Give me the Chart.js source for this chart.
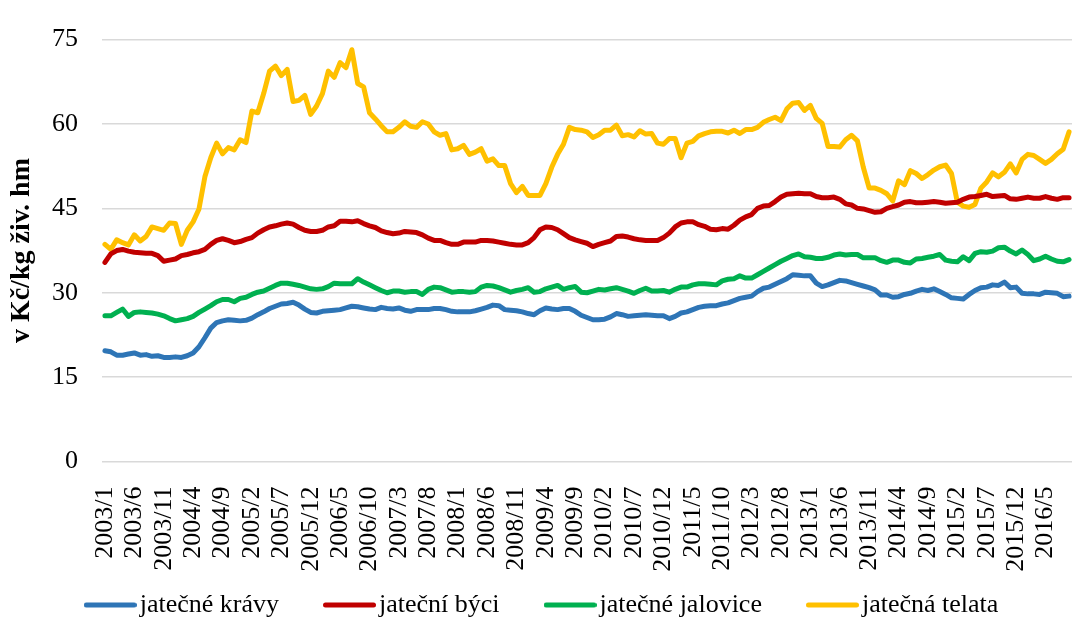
<!DOCTYPE html>
<html>
<head>
<meta charset="utf-8">
<script src="https://cdn.jsdelivr.net/npm/chart.js@4/dist/chart.umd.min.js"></script>
<style>
  html, body { margin: 0; padding: 0; background: #fff; }
  #wrap { width: 1072px; height: 618px; }
</style>
</head>
<body>
<div id="wrap"><canvas id="chart" width="1072" height="618"></canvas></div>
<script>
// monthly prices, v Kč/kg živé hmotnosti, 2003/1 .. 2016/9
const startYear = 2003;
const monthCount = 165;
const months = [];
for (let i = 0; i < monthCount; i++) {
  months.push((startYear + Math.floor(i / 12)) + "/" + (i % 12 + 1));
}

const seriesNames = ["jatečné krávy", "jateční býci", "jatečné jalovice", "jatečná telata"];
const seriesColors = ["#2E75B6", "#C00000", "#00B050", "#FFC000"];
const yTicks = [0, 15, 30, 45, 60, 75];

const kravy = [
  19.7, 19.5, 18.9, 18.9, 19.1, 19.3, 18.9, 19.0, 18.7, 18.8, 18.5, 18.5, 18.6, 18.5, 18.8, 19.3, 20.4, 22.0, 23.7, 24.7,
  25.0, 25.2, 25.1, 25.0, 25.1, 25.5, 26.1, 26.6, 27.2, 27.6, 28.0, 28.1, 28.3, 27.8, 27.1, 26.5, 26.4, 26.7, 26.8, 26.9,
  27.0, 27.3, 27.6, 27.5, 27.3, 27.1, 27.0, 27.4, 27.2, 27.1, 27.3, 26.9, 26.7, 27.0, 27.0, 27.0, 27.2, 27.2, 27.0, 26.7,
  26.6, 26.6, 26.6, 26.8, 27.1, 27.4, 27.8, 27.7, 27.0, 26.9, 26.8, 26.6, 26.3, 26.1, 26.8, 27.3, 27.1, 27.0, 27.2, 27.2,
  26.7, 26.0, 25.6, 25.2, 25.2, 25.3, 25.7, 26.3, 26.1, 25.8, 25.9, 26.0, 26.1, 26.0, 25.9, 25.9, 25.4, 25.8, 26.4, 26.6,
  27.0, 27.4, 27.6, 27.7, 27.7, 28.0, 28.2, 28.6, 29.0, 29.2, 29.4, 30.2, 30.8, 31.0, 31.5, 32.0, 32.5, 33.2, 33.1, 33.0,
  33.0, 31.7, 31.1, 31.4, 31.8, 32.2, 32.1, 31.8, 31.5, 31.2, 30.9, 30.5, 29.6, 29.6, 29.2, 29.3, 29.7, 29.9, 30.3, 30.6,
  30.4, 30.7, 30.2, 29.7, 29.1, 29.0, 28.9, 29.7, 30.4, 30.9, 31.0, 31.4, 31.3, 31.9, 30.9, 31.0, 29.9, 29.8, 29.8, 29.7,
  30.1, 30.0, 29.9, 29.3, 29.4
];

const byci = [
  35.4, 36.9, 37.5, 37.7, 37.4, 37.2, 37.1, 37.0, 37.0, 36.6, 35.6, 35.8, 36.0, 36.6, 36.8, 37.1, 37.3, 37.7, 38.6, 39.3,
  39.6, 39.3, 38.9, 39.1, 39.5, 39.8, 40.6, 41.2, 41.7, 41.9, 42.2, 42.4, 42.2, 41.6, 41.1, 40.9, 40.9, 41.1, 41.7, 41.9,
  42.7, 42.7, 42.6, 42.8, 42.3, 41.9, 41.6, 41.0, 40.7, 40.5, 40.6, 40.9, 40.8, 40.7, 40.3, 39.7, 39.3, 39.3, 38.9, 38.6,
  38.6, 39.0, 39.0, 39.0, 39.3, 39.3, 39.2, 39.0, 38.8, 38.6, 38.5, 38.5, 38.9, 39.8, 41.2, 41.7, 41.6, 41.2, 40.5, 39.8,
  39.4, 39.1, 38.8, 38.2, 38.6, 38.9, 39.2, 40.0, 40.1, 39.9, 39.6, 39.4, 39.3, 39.3, 39.3, 39.8, 40.6, 41.7, 42.4, 42.6,
  42.6, 42.1, 41.8, 41.3, 41.2, 41.4, 41.3, 42.0, 42.9, 43.5, 43.9, 45.0, 45.4, 45.5, 46.2, 47.0, 47.5, 47.6, 47.7, 47.6,
  47.6, 47.1, 46.9, 46.9, 47.0, 46.6, 45.8, 45.6, 45.0, 44.9, 44.6, 44.3, 44.4, 45.0, 45.3, 45.6, 46.1, 46.2, 46.0, 46.0,
  46.1, 46.2, 46.1, 45.9, 46.0, 46.1, 46.6, 47.0, 47.1, 47.3, 47.5, 47.1, 47.2, 47.3, 46.7, 46.6, 46.8, 47.0, 46.8, 46.8,
  47.1, 46.8, 46.6, 46.9, 46.9
];

const jalovice = [
  25.9, 25.9, 26.5, 27.1, 25.8, 26.5, 26.6, 26.5, 26.4, 26.2, 25.9, 25.4, 25.0, 25.2, 25.4, 25.8, 26.5, 27.1, 27.7, 28.4,
  28.8, 28.8, 28.4, 29.0, 29.2, 29.7, 30.1, 30.3, 30.8, 31.3, 31.7, 31.7, 31.5, 31.3, 31.0, 30.7, 30.6, 30.7, 31.1, 31.7,
  31.6, 31.6, 31.6, 32.5, 31.9, 31.4, 30.9, 30.4, 30.0, 30.3, 30.3, 30.1, 30.2, 30.2, 29.7, 30.6, 31.0, 30.9, 30.5, 30.1,
  30.2, 30.2, 30.1, 30.2, 31.0, 31.3, 31.2, 30.9, 30.5, 30.1, 30.4, 30.6, 30.9, 30.1, 30.2, 30.7, 31.0, 31.3, 30.6, 30.9,
  31.1, 30.1, 30.0, 30.3, 30.6, 30.5, 30.7, 30.9, 30.6, 30.3, 29.9, 30.4, 30.8, 30.3, 30.3, 30.4, 30.1, 30.6, 31.0, 31.0,
  31.4, 31.6, 31.6, 31.5, 31.4, 32.1, 32.4, 32.5, 33.0, 32.6, 32.6, 33.2, 33.8, 34.4, 35.0, 35.6, 36.1, 36.6, 36.9, 36.4,
  36.3, 36.1, 36.1, 36.3, 36.7, 36.9, 36.7, 36.8, 36.8, 36.2, 36.2, 36.2, 35.7, 35.4, 35.8, 35.8, 35.4, 35.3, 36.0, 36.1,
  36.3, 36.5, 36.8, 35.8, 35.6, 35.5, 36.4, 35.7, 37.0, 37.3, 37.2, 37.4, 38.0, 38.1, 37.4, 36.9, 37.6, 36.8, 35.7, 36.0,
  36.5, 36.0, 35.6, 35.5, 35.9
];

const telata = [
  38.6, 37.7, 39.4, 38.9, 38.5, 40.3, 39.2, 40.0, 41.7, 41.4, 41.1, 42.4, 42.3, 38.6, 41.1, 42.6, 44.9, 50.6, 54.0, 56.6,
  54.7, 55.8, 55.4, 57.2, 56.7, 62.3, 62.0, 65.4, 69.4, 70.3, 68.6, 69.7, 64.0, 64.2, 65.1, 61.7, 63.2, 65.4, 69.4, 68.3,
  70.9, 70.0, 73.2, 67.2, 66.6, 62.0, 60.9, 59.7, 58.6, 58.6, 59.4, 60.4, 59.6, 59.4, 60.4, 60.0, 58.6, 58.0, 58.3, 55.4,
  55.6, 56.2, 54.6, 55.0, 55.6, 53.4, 53.8, 52.6, 52.6, 49.4, 47.8, 48.9, 47.3, 47.3, 47.3, 49.4, 52.3, 54.6, 56.4, 59.4,
  59.0, 58.9, 58.6, 57.6, 58.1, 58.9, 58.9, 59.8, 57.9, 58.1, 57.7, 58.8, 58.2, 58.3, 56.6, 56.4, 57.4, 57.4, 54.0, 56.6,
  56.9, 57.9, 58.3, 58.6, 58.7, 58.7, 58.4, 58.9, 58.3, 59.0, 59.0, 59.4, 60.3, 60.8, 61.2, 60.6, 62.7, 63.7, 63.8, 62.4,
  63.3, 61.0, 60.1, 56.0, 56.0, 55.9, 57.2, 58.0, 57.0, 52.3, 48.6, 48.6, 48.2, 47.6, 46.3, 49.9, 49.2, 51.7, 51.2, 50.3,
  51.0, 51.8, 52.4, 52.7, 51.2, 46.1, 45.4, 45.2, 45.7, 48.6, 49.7, 51.3, 50.6, 51.4, 52.9, 51.3, 53.7, 54.6, 54.4, 53.7,
  53.0, 53.7, 54.7, 55.5, 58.6
];

const allSeries = [kravy, byci, jalovice, telata];

// legend swatch: a short thick line, drawn a bit wider than the legend box
function makeSwatch(color) {
  const c = document.createElement("canvas");
  c.width = 53;
  c.height = 6;
  const g = c.getContext("2d");
  g.strokeStyle = color;
  g.lineWidth = 5;
  g.lineCap = "round";
  g.beginPath();
  g.moveTo(2.5, 3);
  g.lineTo(50.5, 3);
  g.stroke();
  return c;
}
const swatches = seriesColors.map(makeSwatch);

// let the rotated month labels run below the axis box
const unclipTicks = {
  id: "unclipTicks",
  afterLayout: function (chart) {
    chart.scales.x.bottom = chart.height;
  }
};

Chart.defaults.font.family = "'Times New Roman', 'Liberation Serif', serif";
Chart.defaults.color = "#000";

const ctx = document.getElementById("chart").getContext("2d");
const chart = new Chart(ctx, {
  type: "line",
  data: {
    labels: months,
    datasets: allSeries.map(function (values, k) {
      return {
        label: seriesNames[k],
        data: values,
        borderColor: seriesColors[k],
        backgroundColor: seriesColors[k],
        borderWidth: 5,
        borderCapStyle: "round",
        borderJoinStyle: "round",
        pointRadius: 0,
        tension: 0,
        fill: false
      };
    })
  },
  plugins: [unclipTicks],
  options: {
    responsive: false,
    animation: false,
    devicePixelRatio: 1,
    layout: { padding: { top: 24, left: 20, right: 0, bottom: -10 } },
    plugins: {
      tooltip: { enabled: false },
      legend: {
        position: "bottom",
        labels: {
          usePointStyle: true,
          pointStyleWidth: 33,
          padding: 54,
          color: "#000",
          font: { size: 26 },
          generateLabels: function (chart) {
            const items = Chart.defaults.plugins.legend.labels.generateLabels(chart);
            items.forEach(function (item) {
              item.pointStyle = swatches[item.datasetIndex];
            });
            return items;
          }
        }
      }
    },
    scales: {
      x: {
        offset: true,
        grid: { display: false },
        border: { display: false },
        ticks: {
          autoSkip: false,
          minRotation: 90,
          maxRotation: 90,
          padding: 17,
          color: "#000",
          font: { size: 26 },
          callback: function (value, index) {
            return index % 5 === 0 ? months[index] : "";
          }
        },
        afterFit: function (scale) {
          scale.height = 76.5;
          scale.paddingLeft = 0;
          scale.paddingRight = 0;
        }
      },
      y: {
        min: yTicks[0],
        max: yTicks[yTicks.length - 1],
        afterBuildTicks: function (scale) {
          scale.ticks = yTicks.map(function (v) { return { value: v }; });
        },
        grid: { color: "#D9D9D9", lineWidth: 1.5, drawTicks: false },
        border: { display: false },
        ticks: { padding: 24, color: "#000", font: { size: 26 } },
        title: {
          display: true,
          text: "v Kč/kg živ. hm",
          color: "#000",
          font: { size: 28, weight: "bold" },
          padding: { top: -15, bottom: 0 }
        },
        afterFit: function (scale) {
          scale.width = 82;
        }
      }
    }
  }
});
</script>
</body>
</html>
